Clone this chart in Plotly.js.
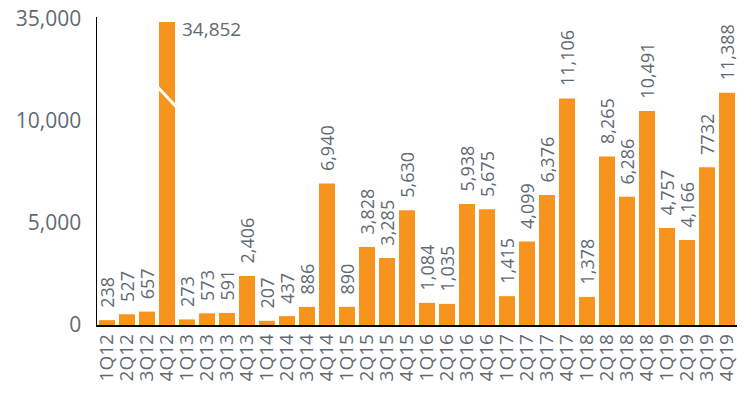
<!DOCTYPE html>
<html>
<head>
<meta charset="utf-8">
<script src="https://cdn.plot.ly/plotly-3.0.1.min.js"></script>
<style>html,body{margin:0;padding:0;background:#fff;}#chart{width:753px;height:397px;}</style>
</head>
<body>
<div id="chart"></div>
<script>
// Data
var quarters = ["1Q12","2Q12","3Q12","4Q12","1Q13","2Q13","3Q13","4Q13","1Q14","2Q14","3Q14","4Q14",
  "1Q15","2Q15","3Q15","4Q15","1Q16","2Q16","3Q16","4Q16","1Q17","2Q17","3Q17","4Q17",
  "1Q18","2Q18","3Q18","4Q18","1Q19","2Q19","3Q19","4Q19"];
var values = [238,527,657,34852,273,573,591,2406,207,437,886,6940,
  890,3828,3285,5630,1084,1035,5938,5675,1415,4099,6376,11106,
  1378,8265,6286,10491,4757,4166,7732,11388];
var valueLabels = ["238","527","657","34,852","273","573","591","2,406","207","437","886","6,940",
  "890","3,828","3,285","5,630","1,084","1,035","5,938","5,675","1,415","4,099","6,376","11,106",
  "1,378","8,265","6,286","10,491","4,757","4,166","7732","11,388"];
var tickValues = [0,5000,10000,35000];
var tickLabels = ["0","5,000","10,000","35,000"];

// Broken axis: values above the break are shifted down
var breakTrue = 35000, breakShown = 15000;
function toAxis(v){ return v > breakShown ? v - (breakTrue - breakShown) : v; }
var shown = values.map(toAxis);
var barText = values.map(function(v, i){ return v > breakShown ? "" : "\u00A0\u00A0" + valueLabels[i]; });
var brokenIdx = values.findIndex(function(v){ return v > breakShown; });

var grey = "#5f6a72";
var trace = {
  type: "bar",
  x: quarters,
  y: shown,
  text: barText,
  textposition: "outside",
  textangle: -90,
  constraintext: "none",
  cliponaxis: false,
  textfont: {family: "Open Sans, sans-serif", size: 18, color: grey},
  marker: {color: "#F7941D"},
  hoverinfo: "skip"
};

var layout = {
  width: 753, height: 397,
  margin: {l: 97, r: 16, t: 17, b: 72},
  paper_bgcolor: "#fff", plot_bgcolor: "#fff",
  bargap: 0.2,
  showlegend: false,
  xaxis: {
    type: "category",
    tickmode: "array",
    tickvals: quarters,
    ticktext: quarters,
    tickangle: -90,
    showgrid: false,
    showline: true, linecolor: "#000", linewidth: 1.5,
    ticks: "",
    ticklabelstandoff: 0,
    tickfont: {family: "Open Sans, sans-serif", size: 19, color: grey},
    fixedrange: true
  },
  yaxis: {
    range: [0, 15100],
    tickmode: "array",
    tickvals: tickValues.map(toAxis),
    ticktext: tickLabels,
    showgrid: false, zeroline: false,
    showline: true, linecolor: "#000", linewidth: 1.5,
    ticks: "",
    ticklabelstandoff: 10,
    tickfont: {family: "Open Sans, sans-serif", size: 21, color: grey},
    fixedrange: true
  },
  annotations: [{
    x: brokenIdx, y: shown[brokenIdx], xref: "x", yref: "y",
    text: valueLabels[brokenIdx],
    showarrow: false, xanchor: "left", yanchor: "middle",
    xshift: 13, yshift: -7,
    font: {family: "Open Sans, sans-serif", size: 19, color: grey}
  }],
  shapes: [{
    type: "line", xref: "x", yref: "y",
    x0: brokenIdx - 0.5, x1: brokenIdx + 0.5,
    y0: 11700, y1: 10650,
    line: {color: "#fff", width: 3}
  }]
};

Plotly.newPlot("chart", [trace], layout, {displayModeBar: false, staticPlot: true});
</script>
</body>
</html>
